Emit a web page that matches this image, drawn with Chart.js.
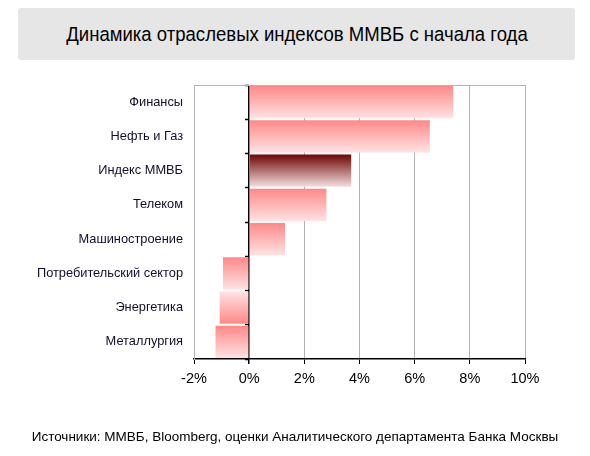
<!DOCTYPE html>
<html lang="ru">
<head>
<meta charset="utf-8">
<script src="https://cdn.jsdelivr.net/npm/chart.js@4.4.1/dist/chart.umd.min.js"></script>
<style>
  html, body { margin: 0; padding: 0; background: #fff; }
  body { width: 590px; height: 456px; position: relative; overflow: hidden; font-family: "Liberation Sans", Arial, sans-serif; }
  .title-box {
    position: absolute; left: 18px; top: 8px; width: 557px; height: 52px;
    background: #e6e6e6; border-radius: 3px;
    display: flex; align-items: center; justify-content: center;
    font-size: 20.5px; color: #000;
  }
  .title-box span { display: inline-block; transform: scaleX(0.905); white-space: nowrap; }
  .source { position: absolute; left: 0; width: 590px; top: 429px; text-align: center; font-size: 13.5px; color: #000; }
  #chartWrap { position: absolute; left: 0; top: 0; width: 590px; height: 456px; }
</style>
</head>
<body>
<div id="chartWrap"><canvas id="sectorChart"></canvas></div>
<div class="title-box"><span>Динамика отраслевых индексов ММВБ с начала года</span></div>
<div class="source">Источники: ММВБ, Bloomberg, оценки Аналитического департамента Банка Москвы</div>

<script>
// Данные графика
const categories = [
  "Финансы", "Нефть и Газ", "Индекс ММВБ", "Телеком",
  "Машиностроение", "Потребительский сектор", "Энергетика", "Металлургия"
];
const changes = [7.4, 6.55, 3.7, 2.8, 1.3, -0.95, -1.07, -1.22];
const xTicks = [-2, 0, 2, 4, 6, 8, 10];

// Градиенты баров (сверху -> вниз)
const pink = ["#ff8888", "#ffe2e2"];
const indexShade = ["#6e0404", "#f4dede"];
function barShades(i) {
  if (categories[i] === "Индекс ММВБ") return indexShade;
  if (categories[i] === "Энергетика") return [pink[1], pink[0]];
  return pink;
}

const BAR_PCT = 0.94;

function barGradient(ctx) {
  const chart = ctx.chart;
  const shades = barShades(ctx.dataIndex);
  if (!chart.chartArea) return shades[0];
  const yScale = chart.scales.y;
  const center = yScale.getPixelForValue(ctx.dataIndex);
  const half = (yScale.height / categories.length) * BAR_PCT / 2;
  const g = chart.ctx.createLinearGradient(0, center - half, 0, center + half);
  g.addColorStop(0, shades[0]);
  g.addColorStop(1, shades[1]);
  return g;
}

let myChart = null;
function initChart() {
  const ctx = document.getElementById("sectorChart");
  if (myChart) myChart.destroy();

  myChart = new Chart(ctx, {
    type: "bar",
    data: {
      labels: categories,
      datasets: [{
        data: changes,
        backgroundColor: barGradient,
        borderWidth: 0,
        categoryPercentage: 1,
        barPercentage: BAR_PCT,
      }],
    },
    options: {
      indexAxis: "y",
      responsive: false,
      animation: false,
      devicePixelRatio: 1,
      layout: { padding: { left: 0, right: 65, top: 85, bottom: 57 } },
      plugins: { legend: { display: false }, tooltip: { enabled: false } },
      scales: {
        x: {
          type: "linear",
          position: "bottom",
          min: -2, max: 10,
          afterBuildTicks: (scale) => { scale.ticks = xTicks.map((v) => ({ value: v })); },
          afterFit: (scale) => { scale.height = 40; },
          ticks: {
            callback: (v) => v + "%",
            color: "#000",
            padding: 6,
            font: { family: "Liberation Sans", size: 14.5 },
          },
          grid: {
            color: (c) => (c.tick && c.tick.value === 0 ? "#000" : "#b4b4b4"),
            lineWidth: (c) => (c.tick && c.tick.value === 0 ? 1.5 : 1),
            tickColor: "#000",
            tickLength: 5,
          },
          border: { color: "#000", width: 1.5 },
        },
        xTop: {
          type: "linear",
          position: "top",
          min: -2, max: 10,
          afterFit: (scale) => { scale.height = 0; },
          ticks: { display: false },
          grid: { drawOnChartArea: false, drawTicks: false },
          border: { color: "#b4b4b4", width: 1 },
        },
        y: {
          type: "category",
          position: "left",
          afterFit: (scale) => { scale.width = 194; },
          ticks: {
            color: "#10102a",
            padding: 11,
            font: { family: "Liberation Sans", size: 12.8 },
          },
          grid: { drawOnChartArea: false, drawTicks: false },
          border: { color: "#b4b4b4", width: 1 },
        },
        yZero: {
          type: "category",
          axis: "y",
          labels: categories,
          position: { x: 0 },
          ticks: { display: false },
          grid: { offset: true, drawOnChartArea: false, tickLength: 4, tickColor: "#000", tickWidth: 1.5 },
          border: { display: false },
        },
      },
    },
  });
}

document.addEventListener("DOMContentLoaded", () => {
  const c = document.getElementById("sectorChart");
  c.width = 590;
  c.height = 456;
  c.style.width = "590px";
  c.style.height = "456px";
  initChart();
});
</script>
</body>
</html>
